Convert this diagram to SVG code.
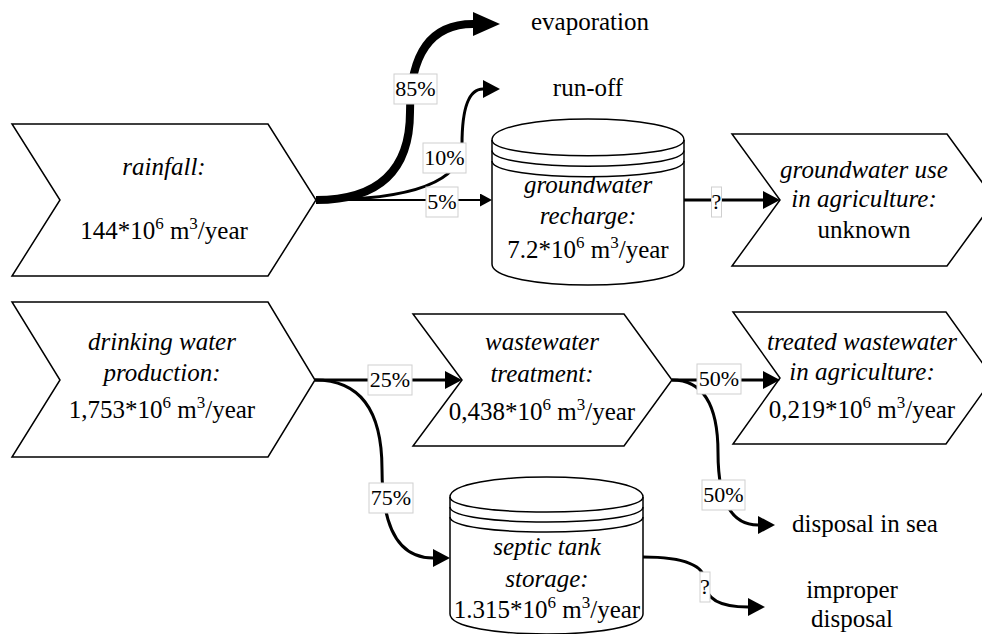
<svg xmlns="http://www.w3.org/2000/svg" width="982" height="634" viewBox="0 0 982 634" font-family="'Liberation Serif', 'DejaVu Serif', 'Times New Roman', serif">
  <defs>
    <style>
      .shape{fill:#fff;stroke:#000;stroke-width:1.5;stroke-linejoin:miter}
      .inner{fill:none;stroke:#000;stroke-width:1.5}
      text{font-family:'Liberation Serif','DejaVu Serif','Times New Roman',serif;font-size:25px;fill:#000}
      .c{text-anchor:middle}
      .i{font-style:italic}
      .sup{font-size:17px}
      .edge{fill:none;stroke:#000;stroke-width:3}
      .lbl rect{fill:#fff;stroke:#cfcfcf;stroke-width:1}
      .lbl text{font-size:22px;text-anchor:middle}
    </style>
    <marker id="head-l" markerUnits="userSpaceOnUse" markerWidth="27" markerHeight="24" refX="0" refY="12" orient="auto">
      <path d="M0,0 L27,12 L0,24 Z"/>
    </marker>
    <marker id="head-m" markerUnits="userSpaceOnUse" markerWidth="17" markerHeight="18" refX="0" refY="9" orient="auto">
      <path d="M0,0 L17,9 L0,18 Z"/>
    </marker>
    <marker id="head-s" markerUnits="userSpaceOnUse" markerWidth="12" markerHeight="13" refX="0" refY="6.5" orient="auto">
      <path d="M0,0 L12,6.5 L0,13 Z"/>
    </marker>
  </defs>

  <!-- process steps (chevrons) and storages (cylinders) -->
  <g id="rainfall">
    <path class="shape" d="M12,124 L268,124 L316,200 L268,276 L12,276 L60,200 Z"/>
    <text class="c i" x="164" y="175">rainfall:</text>
    <text class="c" x="164" y="239">144*10<tspan class="sup" dy="-10">6</tspan><tspan dy="10"> m</tspan><tspan class="sup" dy="-10">3</tspan><tspan dy="10">/year</tspan></text>
  </g>

  <g id="groundwater-recharge">
    <path class="shape" d="M492,140 C492,112 684,112 684,140 L684,264 C684,292 492,292 492,264 Z"/>
    <path class="inner" d="M492,140 C492,161 684,161 684,140 M492,150.5 C492,171.5 684,171.5 684,150.5 M492,161 C492,182 684,182 684,161"/>
    <text class="c i" x="588" y="193">groundwater</text>
    <text class="c i" x="588" y="224">recharge:</text>
    <text class="c" x="588" y="258">7.2*10<tspan class="sup" dy="-10">6</tspan><tspan dy="10"> m</tspan><tspan class="sup" dy="-10">3</tspan><tspan dy="10">/year</tspan></text>
  </g>

  <g id="groundwater-use">
    <path class="shape" d="M732,134 L947,134 L995,200 L947,266 L732,266 L780,200 Z"/>
    <text class="c i" x="864" y="178">groundwater use</text>
    <text class="c i" x="864" y="207">in agriculture:</text>
    <text class="c" x="864" y="238">unknown</text>
  </g>

  <g id="drinking-water">
    <path class="shape" d="M12,302 L268,302 L315,380 L268,457 L12,457 L60,380 Z"/>
    <text class="c i" x="162" y="350">drinking water</text>
    <text class="c i" x="162" y="381">production:</text>
    <text class="c" x="162" y="418">1,753*10<tspan class="sup" dy="-10">6</tspan><tspan dy="10"> m</tspan><tspan class="sup" dy="-10">3</tspan><tspan dy="10">/year</tspan></text>
  </g>

  <g id="wastewater-treatment">
    <path class="shape" d="M413,314 L624,314 L672,380 L624,446 L413,446 L462,380 Z"/>
    <text class="c i" x="542" y="350">wastewater</text>
    <text class="c i" x="542" y="382">treatment:</text>
    <text class="c" x="542" y="420">0,438*10<tspan class="sup" dy="-10">6</tspan><tspan dy="10"> m</tspan><tspan class="sup" dy="-10">3</tspan><tspan dy="10">/year</tspan></text>
  </g>

  <g id="treated-wastewater">
    <path class="shape" d="M733,312 L946,312 L993,378 L946,444 L733,444 L780,378 Z"/>
    <text class="c i" x="862" y="350">treated wastewater</text>
    <text class="c i" x="862" y="380">in agriculture:</text>
    <text class="c" x="862" y="418">0,219*10<tspan class="sup" dy="-10">6</tspan><tspan dy="10"> m</tspan><tspan class="sup" dy="-10">3</tspan><tspan dy="10">/year</tspan></text>
  </g>

  <g id="septic-tank">
    <path class="shape" d="M450,497 C450,470.3 643,470.3 643,497 L643,614 C643,640.7 450,640.7 450,614 Z"/>
    <path class="inner" d="M450,497 C450,517 643,517 643,497 M450,507 C450,527 643,527 643,507 M450,517 C450,537 643,537 643,517"/>
    <text class="c i" x="547" y="555">septic tank</text>
    <text class="c i" x="547" y="587">storage:</text>
    <text class="c" x="547" y="618">1.315*10<tspan class="sup" dy="-10">6</tspan><tspan dy="10"> m</tspan><tspan class="sup" dy="-10">3</tspan><tspan dy="10">/year</tspan></text>
  </g>

  <!-- sinks without a box -->
  <g id="evaporation"><text class="c" x="590" y="30">evaporation</text></g>
  <g id="run-off"><text class="c" x="588" y="96">run-off</text></g>
  <g id="disposal-in-sea"><text class="c" x="865" y="532">disposal in sea</text></g>
  <g id="improper-disposal">
    <text class="c" x="852" y="598">improper</text>
    <text class="c" x="852" y="627">disposal</text>
  </g>

  <!-- flows -->
  <g id="connectors">
    <path class="edge" style="stroke-width:8" d="M316,200 Q410,200 410,112 Q410,24 473,24" marker-end="url(#head-l)"/>
    <path class="edge" d="M316,200 Q462,200 462,144.5 Q462,89 483,89" marker-end="url(#head-m)"/>
    <path class="edge" style="stroke-width:2" d="M316,200 L480,200" marker-end="url(#head-s)"/>
    <path class="edge" d="M684,200 L763,200" marker-end="url(#head-m)"/>
    <path class="edge" d="M315,380 L445,380" marker-end="url(#head-m)"/>
    <path class="edge" d="M315,380 Q382,380 382,469 Q382,558 433,558" marker-end="url(#head-m)"/>
    <path class="edge" d="M672,380 L763,380" marker-end="url(#head-m)"/>
    <path class="edge" d="M672,380 Q718,380 718,452.5 Q718,525 758,525" marker-end="url(#head-m)"/>
    <path class="edge" d="M643,557 Q705,557 705,582 Q705,607 748,607" marker-end="url(#head-m)"/>

    <g class="lbl">
      <rect x="394" y="74" width="43" height="30"/><text x="415.5" y="96">85%</text>
      <rect x="423" y="143" width="43" height="30"/><text x="444.5" y="165">10%</text>
      <rect x="426" y="187" width="32" height="30"/><text x="442" y="209">5%</text>
      <rect x="711.5" y="187" width="10" height="30"/><text x="716.5" y="209">?</text>
      <rect x="368" y="365" width="44" height="30"/><text x="390" y="387">25%</text>
      <rect x="369" y="483" width="44" height="30"/><text x="391" y="505">75%</text>
      <rect x="697" y="364" width="44" height="30"/><text x="719" y="386">50%</text>
      <rect x="702" y="480" width="43" height="30"/><text x="723.5" y="502">50%</text>
      <rect x="700" y="572" width="10" height="30"/><text x="705" y="594">?</text>
    </g>
  </g>
</svg>
